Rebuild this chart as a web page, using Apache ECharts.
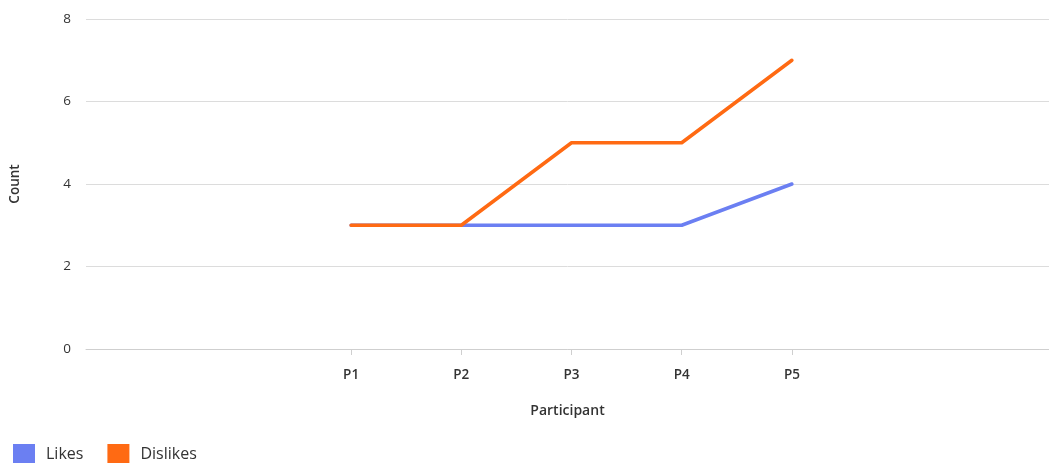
<!DOCTYPE html>
<html>
<head>
<meta charset="utf-8">
<script src="https://cdn.jsdelivr.net/npm/echarts@6/dist/echarts.min.js"></script>
<style>
  html, body { margin: 0; padding: 0; background: #fff; }
  #chart { width: 1049px; height: 463px; }
</style>
</head>
<body>
<div id="chart"></div>
<script>
// Participant feedback counts
const categories = ['P1', 'P2', 'P3', 'P4', 'P5'];
const likes = [3, 3, 3, 3, 4];
const dislikes = [3, 3, 5, 5, 7];
const yTicks = { min: 0, max: 8, interval: 2 };

const FONT = '"Open Sans", "Noto Sans", sans-serif';
const chart = echarts.init(document.getElementById('chart'));

chart.setOption({
  animation: false,
  textStyle: { fontFamily: FONT },
  legend: {
    left: 13,
    top: 444,
    padding: 0,
    itemWidth: 22,
    itemHeight: 20,
    itemGap: 24,
    icon: 'rect',
    textStyle: { fontSize: 16, color: '#333', fontFamily: FONT, padding: [0, 0, 0, 6] },
    data: ['Likes', 'Dislikes']
  },
  grid: [
    // background frame: value axis, gridlines and the axis line
    { left: 82, right: -10, top: 19, bottom: 114, containLabel: false },
    // plotting band holding the participant categories
    { left: 296, width: 551, top: 19, bottom: 114, containLabel: false }
  ],
  xAxis: [
    {
      gridIndex: 0,
      type: 'category',
      data: [],
      name: 'Participant',
      nameLocation: 'middle',
      nameGap: 55,
      nameTextStyle: { fontSize: 14, fontWeight: 600, color: '#333', fontFamily: FONT },
      axisLine: { show: true, lineStyle: { color: '#cfcfcf', width: 1 } },
      axisTick: { show: false },
      axisLabel: { show: false },
      splitLine: { show: false }
    },
    {
      gridIndex: 1,
      type: 'category',
      data: categories,
      boundaryGap: true,
      axisLine: { show: false },
      axisTick: { show: true, alignWithLabel: true, length: 6, lineStyle: { color: '#cfcfcf' } },
      axisLabel: { fontSize: 13.5, fontWeight: 600, color: '#333', margin: 19, fontFamily: FONT },
      splitLine: { show: false }
    }
  ],
  yAxis: [
    {
      gridIndex: 0,
      type: 'value',
      min: yTicks.min,
      max: yTicks.max,
      interval: yTicks.interval,
      name: 'Count',
      nameLocation: 'middle',
      nameGap: 64,
      nameTextStyle: { fontSize: 13.5, fontWeight: 600, color: '#333', fontFamily: FONT },
      axisLine: { show: false },
      axisTick: { show: false },
      axisLabel: { fontSize: 13.5, color: '#333', margin: 15, fontFamily: FONT },
      splitLine: { show: true, lineStyle: { color: '#dcdcdc', width: 1 } }
    },
    {
      gridIndex: 1,
      type: 'value',
      min: yTicks.min,
      max: yTicks.max,
      interval: yTicks.interval,
      show: false
    }
  ],
  series: [
    {
      name: 'Likes',
      type: 'line',
      xAxisIndex: 1,
      yAxisIndex: 1,
      data: likes,
      showSymbol: false,
      symbol: 'none',
      color: '#6b7ff2',
      lineStyle: { width: 3.5, color: '#6b7ff2', cap: 'round', join: 'round' }
    },
    {
      name: 'Dislikes',
      type: 'line',
      xAxisIndex: 1,
      yAxisIndex: 1,
      data: dislikes,
      showSymbol: false,
      symbol: 'none',
      color: '#ff6a13',
      lineStyle: { width: 3.5, color: '#ff6a13', cap: 'round', join: 'round' }
    }
  ]
});
</script>
</body>
</html>
